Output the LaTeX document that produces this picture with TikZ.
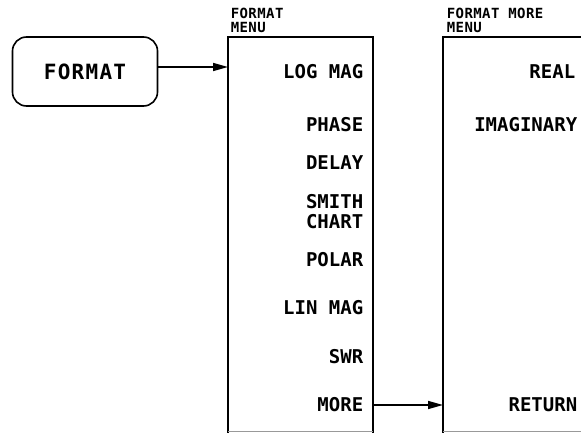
\documentclass[tikz,border=0pt]{standalone}
\usepackage{fontspec}
\usetikzlibrary{arrows.meta}
\newfontfamily\plotfont[LetterSpace=0]{DejaVu Sans Mono}
\newfontfamily\plotkeyfont[LetterSpace=6]{DejaVu Sans Mono}
\newfontfamily\plotsmall[LetterSpace=3]{DejaVu Sans Mono}
\begin{document}
\begin{tikzpicture}[x=1pt,y=-1pt,
  line width=1.6pt,
  keybox/.style={draw, rounded corners=14pt, minimum width=145pt, minimum height=69pt, inner sep=0pt, font=\plotkeyfont\bfseries\fontsize{21}{22}\selectfont},
  item/.style={anchor=east, inner sep=0pt, align=right, font=\plotfont\bfseries\fontsize{19}{19.5}\selectfont},
  menulabel/.style={anchor=north west, inner sep=0pt, align=left, font=\plotsmall\bfseries\fontsize{14}{14}\selectfont},
  arr/.style={-{Triangle[length=15pt,width=8pt]}, line width=1.5pt},
  bottomline/.style={draw=black!40, line width=0.8pt}
]
\useasboundingbox (0,0) rectangle (581,433);
% key
\node[keybox] (key) at (85,71.5) {FORMAT};
% menu frames
\coordinate (m1tl) at (228,37);
\coordinate (m1tr) at (373,37);
\coordinate (m1bl) at (228,433);
\coordinate (m1br) at (373,433);
\coordinate (m2tl) at (443,37);
\coordinate (m2tr) at (581,37);
\coordinate (m2bl) at (443,433);
\draw (m1bl) -- (m1tl) -- (m1tr) -- (m1br);
\draw (m2bl) -- (m2tl) -- (m2tr);
\draw[bottomline] (228,431.5) -- (373,431.5);
\draw[bottomline] (443,431.5) -- (581,431.5);
% labels
\node[menulabel] (lab1) at (230,7) {FORMAT\\MENU};
\node[menulabel] (lab2) at (446,7) {FORMAT MORE\\MENU};
% menu 1 items
\node[item] (logmag) at (364,72) {LOG MAG};
\node[item] (phase) at (364,125) {PHASE};
\node[item] (delay) at (364,163) {DELAY};
\node[item] (smith) at (364,211.5) {SMITH\\CHART};
\node[item] (polar) at (364,260) {POLAR};
\node[item] (linmag) at (364,308) {LIN MAG};
\node[item] (swr) at (364,357) {SWR};
\node[item] (more) at (364,405) {MORE};
% menu 2 items
\node[item] (real) at (576,72) {REAL};
\node[item] (imag) at (578,125) {IMAGINARY};
\node[item] (ret) at (578,405) {RETURN};
% connectors
\coordinate (in1) at (228,67);
\coordinate (out2) at (373,405);
\coordinate (in2) at (443,405);
\draw[arr] (key.east |- in1) -- (in1);
\draw[arr] (out2) -- (in2);
\end{tikzpicture}
\end{document}
